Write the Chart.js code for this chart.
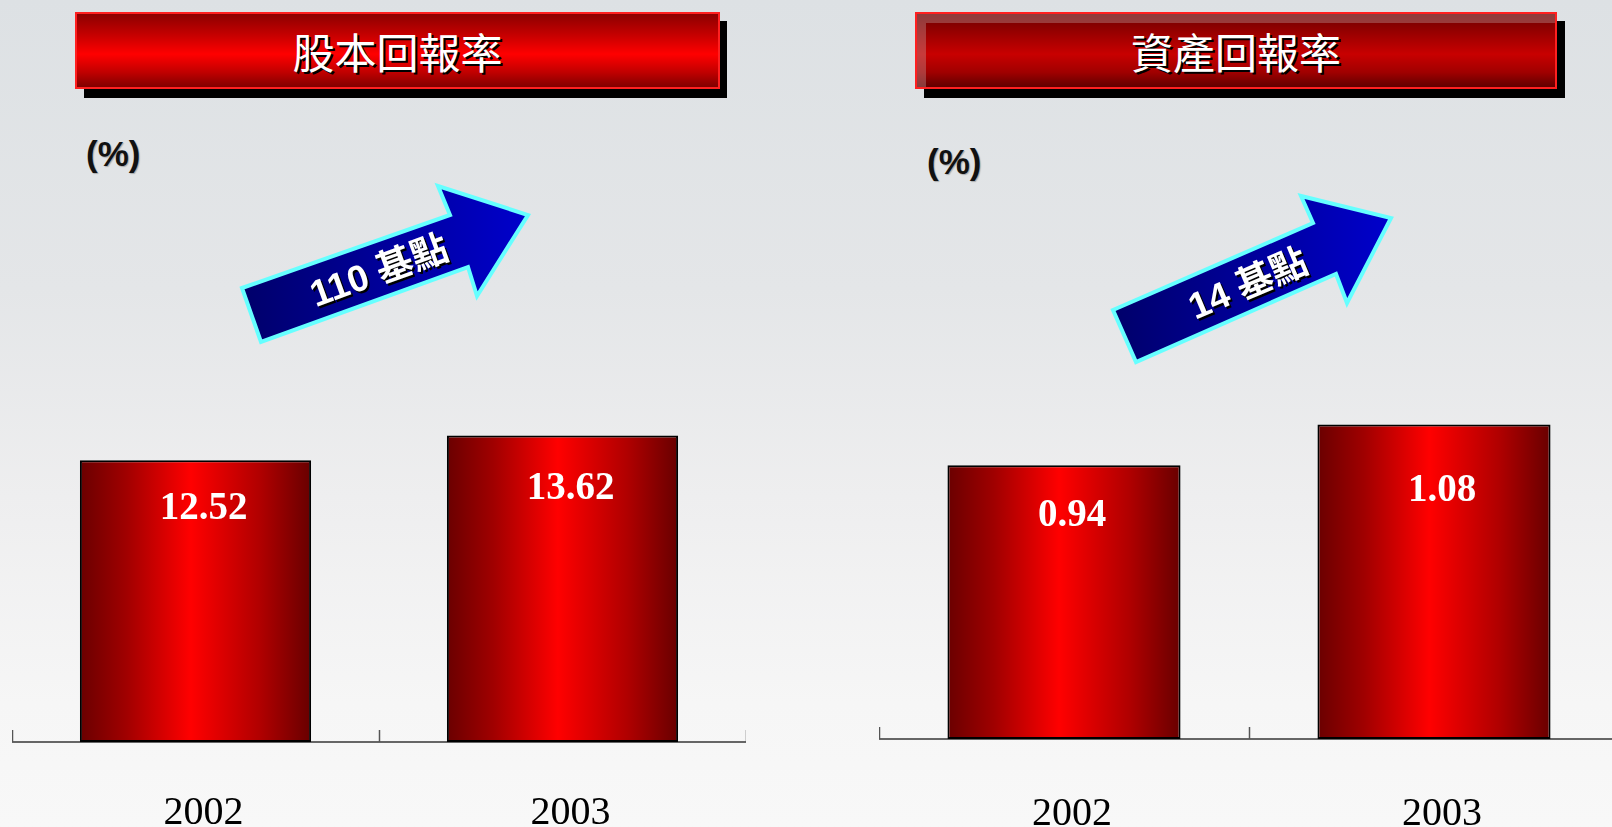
<!DOCTYPE html>
<html><head><meta charset="utf-8">
<script src="https://cdn.jsdelivr.net/npm/chart.js@4.4.1/dist/chart.umd.min.js"></script>
<style>
html,body{margin:0;padding:0;width:1612px;height:827px;overflow:hidden;}
body{position:relative;background:linear-gradient(180deg,#dde1e4 0%,#e4e6e8 35%,#eeeeef 60%,#f6f6f6 85%,#f8f8f8 100%);}
.shadow{position:absolute;background:#000;}
.title{position:absolute;box-sizing:border-box;border:2px solid #ff2020;color:#fff;font-family:"Noto Sans CJK TC";font-size:42px;line-height:1;display:flex;align-items:center;justify-content:center;text-shadow:2px 2px 0 #000;}
.t1{left:75px;top:12px;width:645px;height:77px;background:linear-gradient(180deg,#8c0000 0%,#c80000 30%,#ff0000 55%,#c00000 80%,#800000 100%);}
.t2{left:915px;top:12px;width:642px;height:77px;background:linear-gradient(180deg,#6e0000 0%,#a80000 35%,#c80000 55%,#a00000 80%,#600000 100%);}
.t2 .bevel{position:absolute;left:0;top:0;right:0;bottom:0;border-left:9px solid rgba(200,170,170,0.35);border-top:9px solid rgba(200,170,170,0.35);pointer-events:none;}
.t2 span,.t1 span{position:relative;}
.pct{position:absolute;font-family:"Liberation Sans",Arial,sans-serif;font-weight:bold;font-size:35px;color:#111;text-shadow:1px 1px 1px rgba(0,0,0,0.25);line-height:1;}
.chartbox{position:absolute;}
svg{position:absolute;left:0;top:0;}
</style>
</head><body>

<div class="shadow" style="left:84px;top:21px;width:643px;height:77px;"></div>
<div class="title t1"><span>股本回報率</span></div>
<div class="shadow" style="left:924px;top:21px;width:641px;height:77px;"></div>
<div class="title t2"><div class="bevel"></div><span>資產回報率</span></div>

<div class="pct" style="left:86px;top:136px;">(%)</div>
<div class="pct" style="left:927px;top:144px;">(%)</div>

<div class="chartbox" style="left:12px;top:72px;width:734px;height:765px;"><canvas id="c1"></canvas></div>
<div class="chartbox" style="left:879px;top:72px;width:740px;height:762px;"><canvas id="c2"></canvas></div>

<svg width="1612" height="827" viewBox="0 0 1612 827">
  <defs>
    <linearGradient id="ag1" gradientUnits="userSpaceOnUse" x1="242" y1="0" x2="528" y2="0">
      <stop offset="0" stop-color="#00006a"/><stop offset="1" stop-color="#0000cc"/>
    </linearGradient>
    <linearGradient id="ag2" gradientUnits="userSpaceOnUse" x1="1113" y1="0" x2="1391" y2="0">
      <stop offset="0" stop-color="#00006a"/><stop offset="1" stop-color="#0000cc"/>
    </linearGradient>
  </defs>
  <polygon points="242,288 450,215 438,186 528,215 477,296 468,267 261,342" fill="url(#ag1)" stroke="#66ffff" stroke-width="4" stroke-linejoin="miter"/>
  <polygon points="1113,310 1313,223 1301,196 1391,218 1347,303 1336,274 1136,362" fill="url(#ag2)" stroke="#66ffff" stroke-width="4" stroke-linejoin="miter"/>
  <g font-family="Liberation Sans, Noto Sans CJK TC" font-weight="bold" font-size="37" text-anchor="middle" dominant-baseline="central">
    <text transform="translate(381,273) rotate(-20)" fill="#000">110 基點</text>
    <text transform="translate(379,271) rotate(-20)" fill="#fff">110 基點</text>
    <text transform="translate(1250,286) rotate(-23)" fill="#000">14 基點</text>
    <text transform="translate(1248,284) rotate(-23)" fill="#fff">14 基點</text>
  </g>
</svg>

<script>
const categories = ['2002', '2003'];
const roeValues = [12.52, 13.62];
const roaValues = [0.94, 1.08];
const roeLabels = ['12.52', '13.62'];
const roaLabels = ['0.94', '1.08'];

const BAR_PCT = 0.63;

function barGradient(ctx) {
  const chart = ctx.chart;
  if (!chart.chartArea) return '#d00000';
  const xs = chart.scales.x;
  const cx = xs.getPixelForValue(ctx.dataIndex);
  const w = (xs.width / chart.data.labels.length) * BAR_PCT;
  const g = chart.ctx.createLinearGradient(cx - w / 2, 0, cx + w / 2, 0);
  g.addColorStop(0, '#6a0000');
  g.addColorStop(0.2, '#a00000');
  g.addColorStop(0.48, '#ff0000');
  g.addColorStop(0.78, '#b00000');
  g.addColorStop(1, '#680000');
  return g;
}

const tickMarks = {
  id: 'tickMarks',
  afterDraw(chart) {
    const xs = chart.scales.x;
    const n = chart.data.labels.length;
    const c = chart.ctx;
    c.save();
    c.strokeStyle = '#555';
    c.lineWidth = 1.5;
    for (let i = 0; i <= n; i++) {
      const x = Math.round(xs.left + i * xs.width / n) + 0.5;
      c.beginPath();
      c.moveTo(x, xs.top);
      c.lineTo(x, xs.top - 12);
      c.stroke();
    }
    c.restore();
  }
};

const valueLabels = {
  id: 'valueLabels',
  afterDatasetsDraw(chart, args, opts) {
    const meta = chart.getDatasetMeta(0);
    const c = chart.ctx;
    c.save();
    c.fillStyle = '#fff';
    c.font = 'bold 39px "Liberation Serif", "Times New Roman", serif';
    c.textAlign = 'center';
    c.textBaseline = 'middle';
    meta.data.forEach((el, i) => {
      c.fillText(opts.labels[i], el.x + opts.dx, el.y + opts.dy[i]);
    });
    c.restore();
  }
};

function makeChart(id, values, labels, yMax, dy, pad) {
  return new Chart(document.getElementById(id), {
    type: 'bar',
    data: {
      labels: categories,
      datasets: [{
        data: values,
        backgroundColor: barGradient,
        borderColor: '#000',
        borderWidth: 2,
        borderSkipped: false,
        barPercentage: BAR_PCT,
        categoryPercentage: 1.0
      }]
    },
    options: {
      responsive: true,
      maintainAspectRatio: false,
      animation: false,
      layout: { padding: 0 },
      plugins: {
        legend: { display: false },
        tooltip: { enabled: false },
        valueLabels: { labels: labels, dx: 8, dy: dy }
      },
      scales: {
        x: {
          offset: true,
          grid: { display: true, drawOnChartArea: false, drawTicks: false },
          border: { display: true, color: '#666', width: 2 },
          ticks: {
            color: '#000',
            padding: pad,
            labelOffset: 8,
            font: { family: '"Liberation Serif", "Times New Roman", serif', size: 40 }
          },
          afterFit(scale) { scale.height = 95; }
        },
        y: { display: false, min: 0, max: yMax }
      }
    },
    plugins: [tickMarks, valueLabels]
  });
}

makeChart('c1', roeValues, roeLabels, 29.78, [49, 53], 47);
makeChart('c2', roaValues, roaLabels, 2.29, [51, 66], 51);
</script>
</body></html>
